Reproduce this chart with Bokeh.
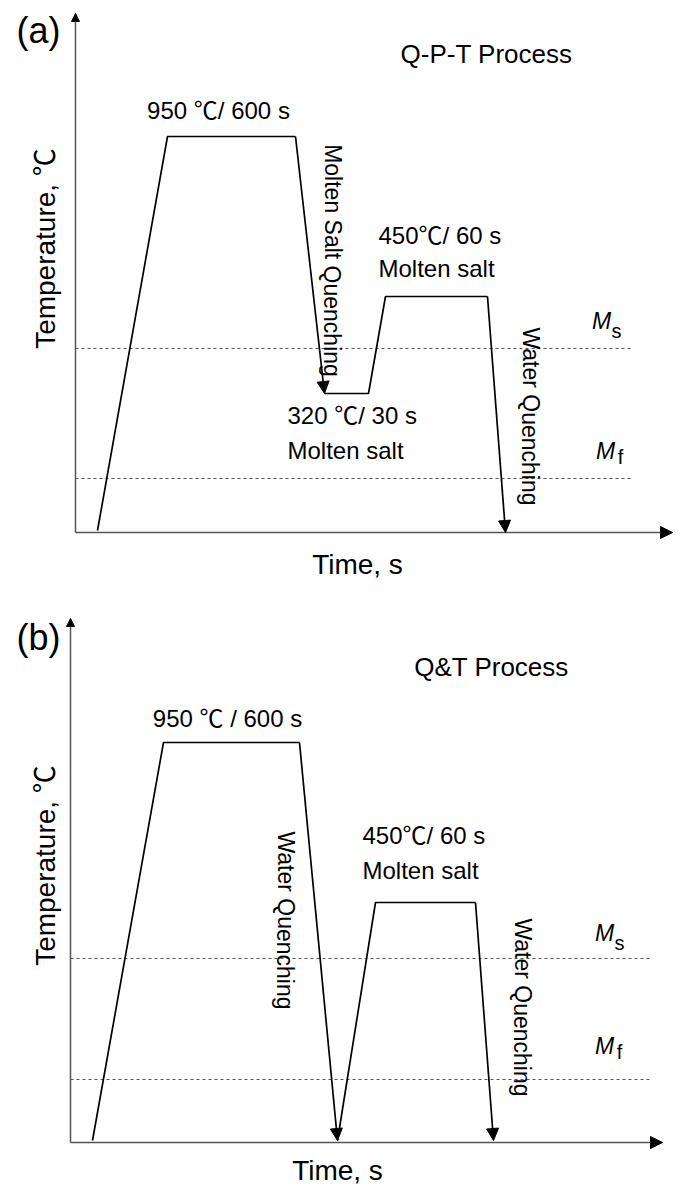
from bokeh.plotting import figure
from bokeh.models import Range1d, Arrow, NormalHead
from bokeh.layouts import column
from bokeh.core.properties import value
from bokeh.embed import file_html
from bokeh.resources import INLINE

FONT = value("Liberation Sans, 'Noto Sans CJK SC', sans-serif")

# ---------------- data (schematic units) ----------------
# Panel (a): Q-P-T process
qpt_time = [22, 92, 220, 249, 293, 310, 412, 430]
qpt_temp = [2, 396, 396, 139, 139, 236, 236, 0]
qpt_ms, qpt_mf = 184, 54
qpt_line_end = 558

# Panel (b): Q&T process
qt_time = [22, 93, 229, 267, 305, 405, 423]
qt_temp = [2, 400, 400, 2, 240, 240, 2]
qt_ms, qt_mf = 184, 63
qt_line_end = 582

# texts
qpt_title = "Q-P-T Process"
qt_title = "Q&T Process"
aust_a = "950 \u2103/ 600 s"
aust_b = "950 \u2103 / 600 s"
temper = "450\u2103/ 60 s"
part = "320 \u2103/ 30 s"
salt = "Molten salt"
msq = "Molten Salt Quenching"
wq = "Water Quenching"
xlab = "Time, s"
ylab = "Temperature, \u2103"

W = 680


def base_fig(xr, yr, h):
    p = figure(width=W, height=h, x_range=Range1d(*xr), y_range=Range1d(*yr),
               output_backend="svg", toolbar_location=None,
               x_axis_type=None, y_axis_type=None,
               min_border_left=0, min_border_right=0, min_border_top=0, min_border_bottom=0)
    p.grid.visible = False
    p.outline_line_color = None
    p.background_fill_color = "white"
    p.border_fill_color = "white"
    return p


def axes(p, xend, ytop):
    p.add_layout(Arrow(x_start=0, y_start=0, x_end=xend, y_end=0, line_color="#555555",
                       line_width=1.5,
                       end=NormalHead(size=12, fill_color="black", line_color="black")))
    p.add_layout(Arrow(x_start=0, y_start=0, x_end=0, y_end=ytop, line_color="#555555",
                       line_width=1.5,
                       end=NormalHead(size=8, fill_color="black", line_color="black")))


def qarrow(p, x0, y0, x1, y1):
    p.add_layout(Arrow(x_start=x0, y_start=y0, x_end=x1, y_end=y1, line_color="black",
                       line_width=1.7,
                       end=NormalHead(size=12, fill_color="black", line_color="black")))


def txt(p, x, y, s, size="24px", align="left", angle=0.0, style="normal"):
    p.text(x=[x], y=[y], text=[s], text_font=FONT, text_font_size=size,
           text_align=align, text_baseline="middle", angle=angle,
           text_font_style=style, text_color="black")


def ms_mf(p, xm, ym, sub, xs, ys):
    txt(p, xm, ym, "M", size="23px", align="center", style="italic")
    txt(p, xs, ys, sub, size="20px", align="center")


# ---------------- panel (a) ----------------
pa = base_fig((-75, W - 75), (-63, 532), 595)
axes(pa, 597, 519)
for lvl in (qpt_ms, qpt_mf):
    pa.line([0, qpt_line_end], [lvl, lvl], line_dash="3 3", line_color="#555555", line_width=1)
pa.line(qpt_time[0:3], qpt_temp[0:3], line_color="black", line_width=1.7)
pa.line(qpt_time[3:7], qpt_temp[3:7], line_color="black", line_width=1.7)
qarrow(pa, qpt_time[2], qpt_temp[2], qpt_time[3], qpt_temp[3])
qarrow(pa, qpt_time[6], qpt_temp[6], qpt_time[7], qpt_temp[7])

txt(pa, -37, 502, "(a)", size="36px", align="center")
txt(pa, 411, 479, qpt_title, size="26px", align="center")
txt(pa, 143, 422, aust_a, align="center")
txt(pa, 257, 272, msq, size="23px", align="center", angle=-1.5708)
txt(pa, 303, 297, temper)
txt(pa, 303, 264, salt)
txt(pa, 212, 117, part)
txt(pa, 212, 82, salt)
txt(pa, 455, 116, wq, size="23px", align="center", angle=-1.5708)
txt(pa, -30, 284, ylab, size="28px", align="center", angle=1.5708)
txt(pa, 282, -32, xlab, size="28px", align="center")
ms_mf(pa, 526, 212, "s", 541, 202)
ms_mf(pa, 530, 82, "f", 545, 76)

# ---------------- panel (b) ----------------
pb = base_fig((-70, W - 70), (-43, 547), 590)
axes(pb, 592, 524)
for lvl in (qt_ms, qt_mf):
    pb.line([0, qt_line_end], [lvl, lvl], line_dash="3 3", line_color="#555555", line_width=1)
pb.line(qt_time[0:3], qt_temp[0:3], line_color="black", line_width=1.7)
pb.line(qt_time[3:6], qt_temp[3:6], line_color="black", line_width=1.7)
qarrow(pb, qt_time[2], qt_temp[2], qt_time[3], qt_temp[3])
qarrow(pb, qt_time[5], qt_temp[5], qt_time[6], qt_temp[6])

txt(pb, -32, 505, "(b)", size="36px", align="center")
txt(pb, 421, 476, qt_title, size="26px", align="center")
txt(pb, 157, 424, aust_b, align="center")
txt(pb, 215, 222, wq, size="23px", align="center", angle=-1.5708)
txt(pb, 292, 307, temper)
txt(pb, 292, 272, salt)
txt(pb, 452, 135, wq, size="23px", align="center", angle=-1.5708)
txt(pb, -25, 277, ylab, size="28px", align="center", angle=1.5708)
txt(pb, 267, -28, xlab, size="28px", align="center")
ms_mf(pb, 534, 210, "s", 549, 200)
ms_mf(pb, 534, 97, "f", 549, 91)

layout = column(pa, pb, spacing=0)
open("out.html", "w").write(file_html(layout, INLINE))
